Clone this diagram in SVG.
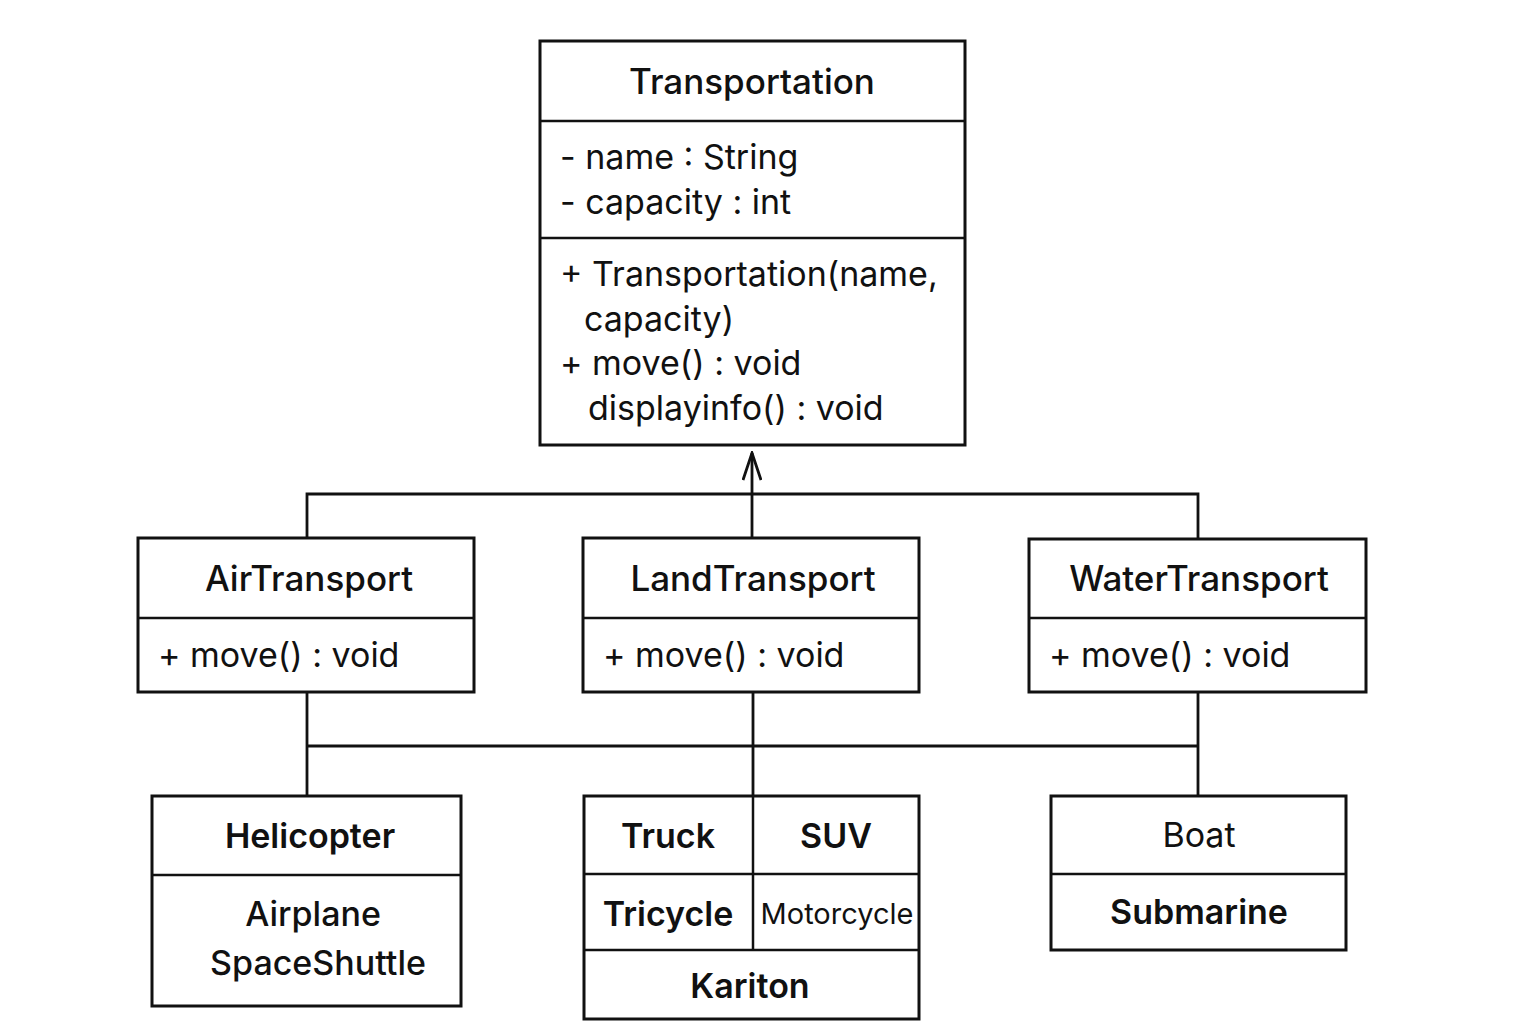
<svg xmlns="http://www.w3.org/2000/svg" width="1536" height="1024" viewBox="0 0 1536 1024">
<style>
.box{fill:#fff;stroke:#111;stroke-width:3}
.div{stroke:#111;stroke-width:2.5;fill:none}
.con{stroke:#111;stroke-width:2.8;fill:none}
text{font-family:Inter,"Noto Sans","Liberation Sans",sans-serif;fill:#111}
.t{font-size:35px;font-weight:500;text-anchor:middle}
.b{font-size:34px;font-weight:400}
.s{font-size:34px;font-weight:600;text-anchor:middle}
.n{font-size:34px;font-weight:400;text-anchor:middle}
</style>
<defs>
<marker id="open" viewBox="0 0 30 20" refX="28" refY="10" markerWidth="30" markerHeight="20" markerUnits="userSpaceOnUse" orient="auto">
<path d="M1,1 L28,10 L1,19" fill="none" stroke="#111" stroke-width="2.8"/>
</marker>
</defs>
<rect width="1536" height="1024" fill="#fff"/>
<g id="connectors">
<path class="con" d="M752,538 V453" marker-end="url(#open)"/>
<path class="con" d="M307,538 V494 H1198 V539"/>
<path class="con" d="M307,796 V692 M753,796 V692 M1198,796 V692 M307,746 H1198"/>
</g>
<g id="Transportation">
<rect class="box" x="540" y="41" width="425" height="404"/>
<line class="div" x1="540" y1="121" x2="965" y2="121"/>
<line class="div" x1="540" y1="238" x2="965" y2="238"/>
<text class="t" x="752" y="94">Transportation</text>
<text class="b" x="560" y="169">- name : String</text>
<text class="b" x="560" y="214">- capacity : int</text>
<text class="b" x="560" y="286">+ Transportation(name,</text>
<text class="b" x="584" y="331">capacity)</text>
<text class="b" x="560" y="375">+ move() : void</text>
<text class="b" x="588" y="420">displayinfo() : void</text>
</g>
<g id="AirTransport">
<rect class="box" x="138" y="538" width="336" height="154"/>
<line class="div" x1="138" y1="618" x2="474" y2="618"/>
<text class="t" x="309" y="591">AirTransport</text>
<text class="b" x="158" y="667">+ move() : void</text>
</g>
<g id="LandTransport">
<rect class="box" x="583" y="538" width="336" height="154"/>
<line class="div" x1="583" y1="618" x2="919" y2="618"/>
<text class="t" x="753" y="591">LandTransport</text>
<text class="b" x="603" y="667">+ move() : void</text>
</g>
<g id="WaterTransport">
<rect class="box" x="1029" y="539" width="337" height="153"/>
<line class="div" x1="1029" y1="618" x2="1366" y2="618"/>
<text class="t" x="1199" y="591">WaterTransport</text>
<text class="b" x="1049" y="667">+ move() : void</text>
</g>
<g id="Helicopter">
<rect class="box" x="152" y="796" width="309" height="210"/>
<line class="div" x1="152" y1="875" x2="461" y2="875"/>
<text class="s" x="310" y="848">Helicopter</text>
<text class="n" x="313" y="926" style="font-weight:500">Airplane</text>
<text class="n" x="318" y="975" style="font-weight:500">SpaceShuttle</text>
</g>
<g id="LandVehicles">
<rect class="box" x="584" y="796" width="335" height="223"/>
<line class="div" x1="753" y1="796" x2="753" y2="950"/>
<line class="div" x1="584" y1="874" x2="919" y2="874"/>
<line class="div" x1="584" y1="950" x2="919" y2="950"/>
<text class="s" x="668" y="848">Truck</text>
<text class="s" x="836" y="848">SUV</text>
<text class="s" x="668" y="926">Tricycle</text>
<text class="n" x="837" y="924" style="font-size:29px">Motorcycle</text>
<text class="s" x="750" y="998">Kariton</text>
</g>
<g id="Boat">
<rect class="box" x="1051" y="796" width="295" height="154"/>
<line class="div" x1="1051" y1="874" x2="1346" y2="874"/>
<text class="n" x="1199" y="847">Boat</text>
<text class="s" x="1199" y="924">Submarine</text>
</g>
</svg>
